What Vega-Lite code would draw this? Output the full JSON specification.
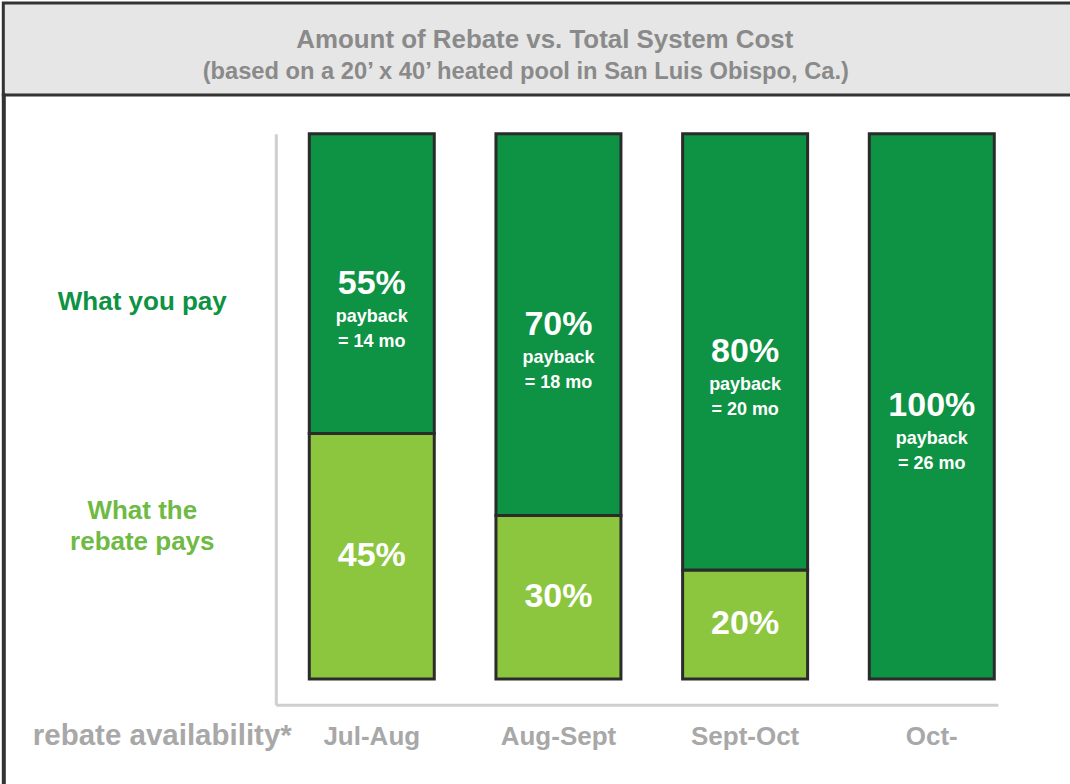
{
  "$schema": "https://vega.github.io/schema/vega-lite/v6.json",
  "padding": {"left": 1.3, "top": 1, "right": 0, "bottom": 0},
  "background": "white",
  "config": {"view": {"stroke": null}, "font": "Liberation Sans"},
  "spacing": 0,
  "bounds": "flush",
  "vconcat": [
    {
      "width": 1069,
      "height": 92,
      "view": {"fill": "#e6e6e6", "stroke": "#333333", "strokeWidth": 3},
      "data": {"values": [{"title": "Amount of Rebate vs. Total System Cost", "subtitle": "(based on a 20’ x 40’ heated pool in San Luis Obispo, Ca.)"}]},
      "layer": [
        {"mark": {"type": "text", "font": "Liberation Sans", "fontWeight": "bold", "fontSize": 25.9, "fill": "#8a8a8a", "baseline": "middle", "align": "center", "dy": -9.5, "dx": 7}, "encoding": {"text": {"field": "title"}}},
        {"mark": {"type": "text", "font": "Liberation Sans", "fontWeight": "bold", "fontSize": 23.7, "fill": "#8a8a8a", "baseline": "middle", "align": "center", "dy": 22.5, "dx": -12}, "encoding": {"text": {"field": "subtitle"}}}
      ]
    },
    {
      "bounds": "flush",
      "spacing": 271.5,
      "hconcat": [
        {"width": 1, "height": 690, "view": {"stroke": "#333333", "strokeWidth": 3}, "data": {"values": []}, "mark": "rule", "encoding": {}},
        {
          "bounds": "flush",
          "spacing": 37.7,
          "vconcat": [
            {"width": 722, "height": 1, "data": {"values": []}, "mark": "rule", "encoding": {}},
            {
              "width": 722,
              "height": 571,
              "data": {"values": [
                {"period": "Jul-Aug", "part": "What the rebate pays", "share": 0.45, "payback": ""},
                {"period": "Jul-Aug", "part": "What you pay", "share": 0.55, "payback": "= 14 mo"},
                {"period": "Aug-Sept", "part": "What the rebate pays", "share": 0.30, "payback": ""},
                {"period": "Aug-Sept", "part": "What you pay", "share": 0.70, "payback": "= 18 mo"},
                {"period": "Sept-Oct", "part": "What the rebate pays", "share": 0.20, "payback": ""},
                {"period": "Sept-Oct", "part": "What you pay", "share": 0.80, "payback": "= 20 mo"},
                {"period": "Oct-", "part": "What you pay", "share": 1.00, "payback": "= 26 mo"}
              ]},
              "encoding": {
                "x": {
                  "field": "period", "type": "nominal", "sort": null,
                  "scale": {"paddingInner": 0.3304, "paddingOuter": 0.0991, "align": 0.905},
                  "axis": {
                    "title": "rebate availability*", "titleX": -114, "titleY": 40, "titleAlign": "center", "titleAnchor": null,
                    "titleBaseline": "alphabetic", "titleFontSize": 29.5, "titleFont": "Liberation Sans", "titleFontWeight": "bold", "titleColor": "#a8a8a8",
                    "labelFont": "Liberation Sans", "labelFontSize": 26, "labelFontWeight": "bold", "labelColor": "#a8a8a8",
                    "labelAngle": 0, "labelBaseline": "alphabetic", "labelPadding": 40, "ticks": false, "tickSize": 0,
                    "domainColor": "#cfcfcf", "domainWidth": 3, "grid": false
                  }
                },
                "y": {
                  "field": "share", "type": "quantitative", "stack": "zero",
                  "scale": {"domain": [-0.0471, 1], "nice": false, "zero": false},
                  "axis": {
                    "title": null, "values": [0.3094, 0.6925],
                    "labelExpr": "datum.value > 0.5 ? 'What you pay' : ['What the', 'rebate pays']",
                    "ticks": false, "tickSize": 0, "grid": false,
                    "domainColor": "#cfcfcf", "domainWidth": 3,
                    "labelAlign": "center", "labelBaseline": "middle", "labelPadding": 134,
                    "labelFont": "Liberation Sans", "labelFontSize": 26, "labelFontWeight": "bold", "labelLineHeight": 31,
                    "labelColor": {"condition": {"test": "datum.value > 0.5", "value": "#0e9244"}, "value": "#6fba44"},
                    "labelLimit": 400, "labelOverlap": false, "labelBound": false, "labelFlush": false
                  }
                },
                "detail": {"field": "part"},
                "order": {"field": "part", "sort": "ascending"}
              },
              "layer": [
                {
                  "mark": {"type": "bar", "stroke": "#2b2b2b", "strokeWidth": 3},
                  "encoding": {
                    "color": {"field": "part", "type": "nominal", "scale": {"domain": ["What the rebate pays", "What you pay"], "range": ["#8cc63f", "#0e9244"]}, "legend": null}
                  }
                },
                {
                  "mark": {"type": "text", "font": "Liberation Sans", "fontWeight": "bold", "fontSize": 34, "fill": "white", "baseline": "middle", "align": "center"},
                  "encoding": {
                    "y": {"field": "share", "type": "quantitative", "stack": "zero", "bandPosition": 0.5},
                    "text": {"field": "share", "type": "quantitative", "format": ".0%"}
                  }
                },
                {
                  "mark": {"type": "text", "font": "Liberation Sans", "fontWeight": "bold", "fontSize": 18, "fill": "white", "baseline": "middle", "align": "center", "dy": 33},
                  "encoding": {
                    "y": {"field": "share", "type": "quantitative", "stack": "zero", "bandPosition": 0.5},
                    "text": {"condition": {"test": "datum.payback != ''", "value": "payback"}, "value": ""}
                  }
                },
                {
                  "mark": {"type": "text", "font": "Liberation Sans", "fontWeight": "bold", "fontSize": 18, "fill": "white", "baseline": "middle", "align": "center", "dy": 58},
                  "encoding": {
                    "y": {"field": "share", "type": "quantitative", "stack": "zero", "bandPosition": 0.5},
                    "text": {"field": "payback", "type": "nominal"}
                  }
                }
              ]
            }
          ]
        }
      ]
    }
  ]
}
